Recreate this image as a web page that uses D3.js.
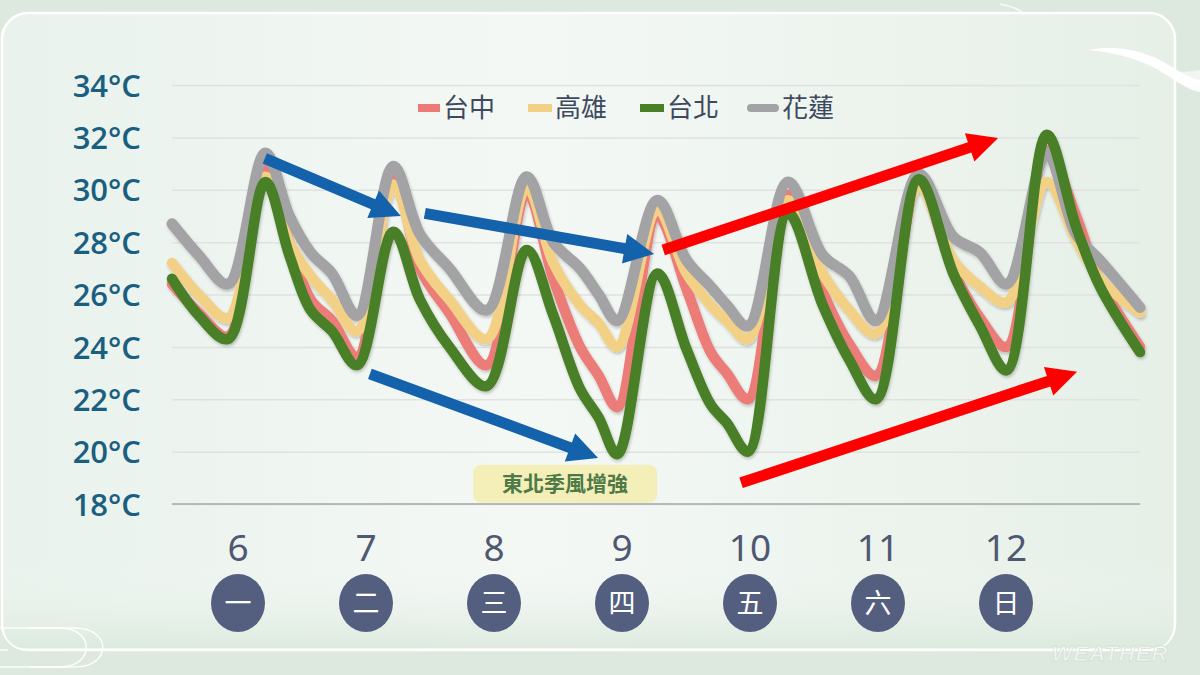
<!DOCTYPE html>
<html><head><meta charset="utf-8">
<script src="https://cdn.jsdelivr.net/npm/d3@7"></script>
<style>html,body{margin:0;padding:0;background:#dde9de;}svg{display:block;}</style>
</head><body>
<svg id="chart" width="1200" height="675"></svg>
<script>
// ---- data ----
const hours = [0,5,10.5,17.5,22,26,30,34.7,41.5,46.5,52,59,66.5,71.5,76.5,80,83.5,91,96.5,101,104,108,115.5,122,127,132,140,146.5,151.5,156.5,164,169.5,174,181.5];
const taichung = [26.4,25.3,24.4,30.8,28.0,25.8,25.0,23.6,30.7,27.0,25.3,23.3,29.9,26.6,24.0,22.9,21.7,29.0,26.2,23.8,23.0,22.0,29.8,26.1,24.1,22.9,30.2,26.9,25.1,24.0,31.5,29.0,26.5,24.0];
const kaohsiung = [27.2,26.0,25.1,30.5,28.0,26.7,25.8,24.6,30.2,27.3,25.8,24.3,30.1,27.2,25.6,24.9,24.0,29.2,26.8,25.6,25.0,24.3,29.6,26.8,25.4,24.5,30.1,27.3,26.3,25.7,30.3,28.1,26.6,25.3];
const taipei = [26.6,25.2,24.3,30.3,27.5,25.4,24.6,23.3,28.4,25.8,24.0,22.5,27.7,25.2,22.4,21.3,19.9,26.8,23.9,21.8,21.1,20.0,29.1,25.6,23.5,22.0,30.4,26.8,24.8,23.1,32.1,28.6,26.3,23.8];
const hualien = [28.7,27.5,26.4,31.4,29.0,27.6,26.8,25.2,30.9,28.3,27.0,25.4,30.5,28.0,27.0,26.0,25.0,29.6,27.3,26.3,25.6,24.8,30.3,27.5,26.7,25.0,30.6,28.2,27.6,26.4,31.4,28.3,27.3,25.5];
const seriesNames = ["台中","高雄","台北","花蓮"];
const seriesColors = ["#ec7b77","#f2d187","#4a7f26","#a3a3a5"];
const yTicks = [18,20,22,24,26,28,30,32,34];
const dayNums = ["6","7","8","9","10","11","12"];
const weekdays = ["一","二","三","四","五","六","日"];
const dayHours = [12,36,60,84,108,132,156];
const note = "東北季風增強";
// arrows: [startHour,startTemp,endHour,endTemp]
const blueArrows = [[17.4,31.2,42.9,29.0],[47.4,29.1,90.4,27.55],[37.1,22.97,79.9,19.76]];
const redArrows = [[92.1,27.7,154.9,31.98],[106.7,18.81,169.7,23.05]];

// ---- drawing ----
const svg = d3.select("#chart");
const defs = svg.append("defs");
const g1 = defs.append("linearGradient").attr("id","panelGrad").attr("x1","0").attr("x2","1").attr("y1","0").attr("y2","0");
g1.append("stop").attr("offset","0").attr("stop-color","#e9f2ec");
g1.append("stop").attr("offset","0.45").attr("stop-color","#f4f8f5");
g1.append("stop").attr("offset","1").attr("stop-color","#e6f0e7");
const g2 = defs.append("linearGradient").attr("id","bottomGrad").attr("x1","0").attr("x2","0").attr("y1","0").attr("y2","1");
g2.append("stop").attr("offset","0").attr("stop-color","#f3f7f4").attr("stop-opacity",0);
g2.append("stop").attr("offset","1").attr("stop-color","#dbe9dc").attr("stop-opacity",0.9);
const sh = defs.append("filter").attr("id","shadow").attr("x","-10%").attr("y","-10%").attr("width","120%").attr("height","130%");
sh.append("feDropShadow").attr("dx",1).attr("dy",2).attr("stdDeviation",1.5).attr("flood-color","#000").attr("flood-opacity",0.22);

svg.append("rect").attr("width",1200).attr("height",675).attr("fill","#dde9de");
svg.append("rect").attr("x",2).attr("y",13).attr("width",1173).attr("height",637).attr("rx",26)
  .attr("fill","url(#panelGrad)").attr("stroke","#ffffff").attr("stroke-width",2.5);
svg.append("rect").attr("x",4).attr("y",560).attr("width",1169).attr("height",88).attr("rx",20).attr("fill","url(#bottomGrad)");

// decorations
svg.append("path").attr("d","M1088,50 C1115,45 1140,50 1160,60 C1175,68 1188,78 1200,80 L1200,92 C1188,90 1178,82 1165,74 C1145,61 1120,53 1088,50 Z").attr("fill","#ffffff").attr("opacity",0.95);
svg.append("path").attr("d","M1160,72 C1175,80 1190,84 1200,84 L1200,70 C1190,72 1178,72 1160,72 Z").attr("fill","#ffffff").attr("opacity",0.6);
svg.append("path").attr("d","M1000,4 C1010,6 1018,9 1022,12").attr("fill","none").attr("stroke","#ffffff").attr("stroke-width",1.5).attr("opacity",0.8);
svg.append("path").attr("d","M0,628 L60,628 C95,628 95,667 60,667 L0,667").attr("fill","none").attr("stroke","#ffffff").attr("stroke-width",1.5).attr("opacity",0.9);
svg.append("path").attr("d","M0,650 L8,650 M30,628 L75,628 C112,628 112,667 75,667 L30,667").attr("fill","none").attr("stroke","#ffffff").attr("stroke-width",1.5).attr("opacity",0.9);
svg.append("text").attr("x",1110).attr("y",661).attr("text-anchor","middle").attr("font-family","Liberation Sans, Arial, sans-serif")
  .attr("font-weight","bold").attr("font-style","italic").attr("font-size",22).attr("fill","#ffffff").attr("fill-opacity",0.55)
  .attr("stroke","#d5e2d7").attr("stroke-width",0.8).attr("letter-spacing",1).text("WEATHER");

const x = d3.scaleLinear().domain([0,181.5]).range([172,1140]);
const y = d3.scaleLinear().domain([18,34]).range([504,85]);

// gridlines
const grid = svg.append("g").attr("transform","translate(172,0)")
  .call(d3.axisLeft(y).tickValues(yTicks).tickSize(-(1140-172)).tickFormat(""));
grid.select(".domain").remove();
grid.selectAll("line").attr("stroke","#dfe2e0").attr("stroke-width",1.5);

// x baseline
svg.append("line").attr("x1",x(0)).attr("x2",x(181.5)).attr("y1",y(18)).attr("y2",y(18)).attr("stroke","#a5a8ab").attr("stroke-width",1.5);

// y labels
const yAx = svg.append("g").attr("transform","translate(141,0)")
  .call(d3.axisLeft(y).tickValues(yTicks).tickSize(0).tickPadding(0).tickFormat(d=>d+"°C"));
yAx.select(".domain").remove();
yAx.selectAll("text").attr("font-family","'Open Sans', sans-serif").attr("font-size",31).attr("font-weight",600).attr("fill","#1b5f80").attr("dy","0.36em");

// lines
const allSeries = [taichung,kaohsiung,taipei,hualien];
const drawOrder = [0,1,3,2];
const line = d3.line().x((d,i)=>x(hours[i])).y(d=>y(d)).curve(d3.curveCatmullRom.alpha(0.5));
const lg = svg.append("g").attr("filter","url(#shadow)");
drawOrder.forEach(k=>{
  lg.append("path").datum(allSeries[k]).attr("d",line).attr("fill","none")
    .attr("stroke",seriesColors[k]).attr("stroke-width",k===3?11:10.5).attr("stroke-linejoin","round").attr("stroke-linecap","round");
});

// arrows
function arrowPath(a){
  const x1=x(a[0]),y1=y(a[1]),x2=x(a[2]),y2=y(a[3]);
  const dx=x2-x1,dy=y2-y1,L=Math.hypot(dx,dy),ux=dx/L,uy=dy/L,nx=-uy,ny=ux;
  const hw=5.5,hl=30,hh=15;
  const bx=x2-ux*hl,by=y2-uy*hl;
  const p=[[x1+nx*hw,y1+ny*hw],[bx+nx*hw,by+ny*hw],[bx+nx*hh,by+ny*hh],[x2,y2],[bx-nx*hh,by-ny*hh],[bx-nx*hw,by-ny*hw],[x1-nx*hw,y1-ny*hw]];
  return "M"+p.map(q=>q[0].toFixed(1)+","+q[1].toFixed(1)).join("L")+"Z";
}
svg.append("g").selectAll("path").data(blueArrows).join("path").attr("d",arrowPath).attr("fill","#1462ab");
svg.append("g").selectAll("path").data(redArrows).join("path").attr("d",arrowPath).attr("fill","#fe0000");

// note box
const nb = svg.append("g").attr("transform",`translate(${x(73.7)},${y(18.77)})`);
nb.append("rect").attr("x",-92).attr("y",-19).attr("width",184).attr("height",38).attr("rx",8).attr("fill","#f4efb8");
nb.append("text").attr("text-anchor","middle").attr("dy","0.35em").attr("font-family","'Noto Sans CJK TC', sans-serif")
  .attr("font-weight",700).attr("font-size",21).attr("fill","#4e7a48").text(note);

// legend
const legX = [418,528,640,747];
const legW = [22,24,24,32];
const leg = svg.append("g");
seriesNames.forEach((n,i)=>{
  leg.append("rect").attr("x",legX[i]).attr("y",104).attr("width",legW[i]).attr("height",8).attr("rx",i===3?4:0).attr("fill",seriesColors[i]);
  leg.append("text").attr("x",legX[i]+legW[i]+3).attr("y",108).attr("dy","0.36em").attr("font-family","'Noto Sans CJK TC', sans-serif")
    .attr("font-size",26).attr("fill","#3d4a5e").text(n);
});

// day labels
const dg = svg.append("g");
dayHours.forEach((h,i)=>{
  const cx = x(h)+2;
  dg.append("text").attr("x",cx).attr("y",548).attr("dy","0.36em").attr("text-anchor","middle")
    .attr("font-family","'Noto Sans', sans-serif").attr("font-size",37).attr("fill","#4f5872").text(dayNums[i]);
  dg.append("ellipse").attr("cx",cx).attr("cy",603).attr("rx",27).attr("ry",29).attr("fill","#545f7f");
  dg.append("text").attr("x",cx).attr("y",603).attr("dy","0.36em").attr("text-anchor","middle")
    .attr("font-family","'Noto Sans CJK TC', sans-serif").attr("font-size",27).attr("fill","#ffffff").text(weekdays[i]);
});
</script>
</body></html>
